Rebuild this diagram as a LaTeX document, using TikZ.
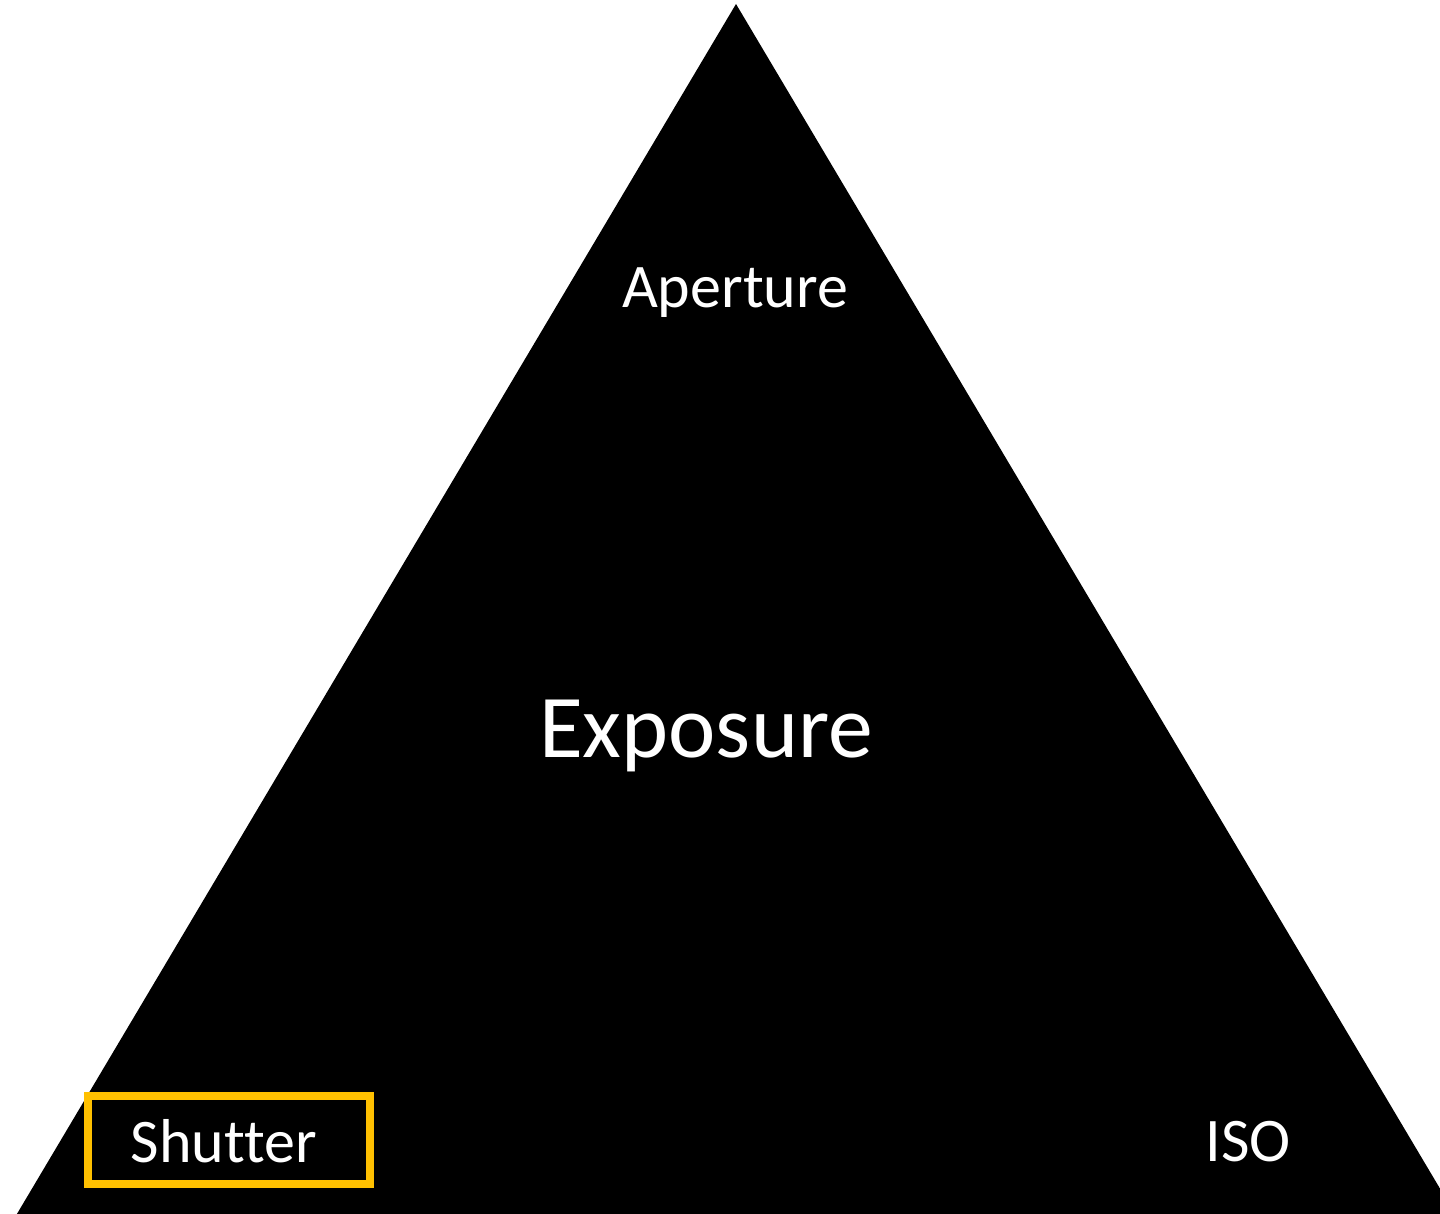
\documentclass[tikz,border=0pt]{standalone}
\usepackage{fontspec}
\setmainfont{Carlito}[Ligatures=NoCommon]
\definecolor{frameyellow}{HTML}{FFC000}
\tikzset{
  label text/.style={text=white, inner sep=0pt, anchor=base, font=\fontsize{31}{36}\selectfont},
  title text/.style={text=white, inner sep=0pt, anchor=base, font=\fontsize{44.8}{52}\selectfont},
  highlight/.style={draw=frameyellow, line width=4pt, rectangle, inner sep=0pt,
                    minimum width=141pt, minimum height=44pt}
}
\begin{document}
\begin{tikzpicture}[x=0.5pt,y=-0.5pt]
  \useasboundingbox (0,0) rectangle (1440,1214);
  \begin{scope}
    \clip (0,0) rectangle (1440,1214);
    % the exposure triangle
    \fill[black] (736,4) -- (8,1229) -- (1464,1229) -- cycle;
  \end{scope}
  \node[title text] (exposure) at (706,757) {Exposure};
  \node[label text] (aperture) at (735,307) {Aperture};
  \node[label text] (iso) at (1248,1161) {ISO};
  \node[highlight] (shutterbox) at (229,1140) {};
  \node[label text] (shutter) at (224,1162) {Shutter};
\end{tikzpicture}
\end{document}
